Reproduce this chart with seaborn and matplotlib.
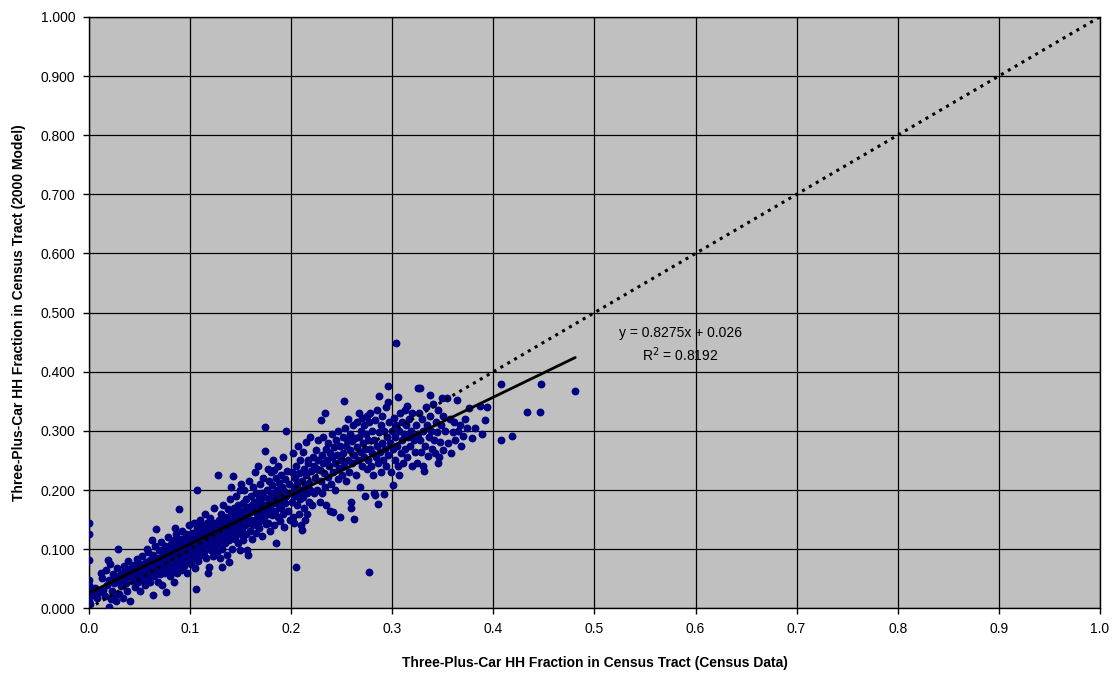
import numpy as np
import pandas as pd
import matplotlib
matplotlib.use("Agg")
import matplotlib.pyplot as plt
import seaborn as sns

tract_points = [
    # x 0.000-0.025
    (0.000,0.144),(0.000,0.125),(0.000,0.082),(0.000,0.047),(0.000,0.040),(0.000,0.024),(0.000,0.012),
    (0.001,0.008),(0.002,0.030),(0.004,0.022),(0.006,0.035),(0.008,0.018),(0.010,0.027),(0.012,0.060),
    (0.013,0.052),(0.014,0.031),(0.016,0.020),(0.017,0.065),(0.018,0.040),(0.019,0.082),(0.020,0.003),
    (0.020,0.048),(0.021,0.075),(0.022,0.015),(0.023,0.030),(0.024,0.058),(0.024,0.019),(0.025,0.042),
    # x 0.025-0.05
    (0.026,0.052),(0.027,0.012),(0.028,0.068),(0.029,0.100),(0.030,0.045),(0.030,0.025),(0.031,0.057),
    (0.032,0.038),(0.033,0.060),(0.034,0.018),(0.035,0.072),(0.036,0.050),(0.037,0.042),(0.038,0.063),
    (0.038,0.030),(0.039,0.080),(0.040,0.055),(0.041,0.013),(0.042,0.068),(0.043,0.047),(0.044,0.074),
    (0.045,0.060),(0.045,0.036),(0.046,0.052),(0.047,0.083),(0.048,0.066),(0.048,0.044),(0.049,0.058),
    (0.050,0.075),(0.050,0.030),(0.044,0.065),(0.036,0.065),
    # x 0.05-0.075
    (0.051,0.062),(0.052,0.048),(0.052,0.088),(0.053,0.070),(0.054,0.056),(0.055,0.040),(0.056,0.078),
    (0.057,0.064),(0.058,0.095),(0.058,0.052),(0.059,0.072),(0.060,0.082),(0.060,0.045),(0.061,0.060),
    (0.062,0.068),(0.063,0.090),(0.063,0.022),(0.064,0.055),(0.065,0.077),(0.065,0.105),(0.066,0.134),
    (0.066,0.064),(0.067,0.085),(0.068,0.045),(0.068,0.070),(0.069,0.098),(0.070,0.058),(0.070,0.080),
    (0.071,0.112),(0.071,0.066),(0.072,0.088),(0.072,0.040),(0.073,0.075),(0.073,0.095),(0.074,0.060),
    (0.074,0.083),(0.075,0.070),(0.075,0.105),(0.062,0.115),(0.057,0.100),
    # x 0.075-0.10
    (0.076,0.090),(0.076,0.028),(0.077,0.078),(0.077,0.100),(0.078,0.066),(0.078,0.120),(0.079,0.085),
    (0.080,0.095),(0.080,0.055),(0.081,0.072),(0.081,0.108),(0.082,0.088),(0.082,0.062),(0.083,0.098),
    (0.083,0.080),(0.084,0.115),(0.084,0.045),(0.085,0.092),(0.085,0.070),(0.086,0.102),(0.086,0.125),
    (0.087,0.084),(0.087,0.060),(0.088,0.110),(0.088,0.095),(0.089,0.168),(0.089,0.076),(0.090,0.100),
    (0.090,0.088),(0.091,0.118),(0.091,0.065),(0.092,0.096),(0.092,0.130),(0.093,0.082),(0.093,0.108),
    (0.094,0.090),(0.094,0.072),(0.095,0.115),(0.095,0.100),(0.096,0.085),(0.096,0.125),(0.097,0.095),
    (0.097,0.060),(0.098,0.110),(0.098,0.080),(0.099,0.140),(0.099,0.100),(0.100,0.090),(0.100,0.118),
    (0.085,0.136),
    # x 0.10-0.125
    (0.101,0.105),(0.101,0.075),(0.102,0.128),(0.102,0.095),(0.103,0.112),(0.103,0.085),(0.104,0.145),
    (0.104,0.100),(0.105,0.120),(0.105,0.068),(0.106,0.108),(0.106,0.092),(0.107,0.200),(0.107,0.135),
    (0.108,0.115),(0.108,0.080),(0.109,0.125),(0.109,0.100),(0.110,0.150),(0.110,0.110),(0.111,0.090),
    (0.111,0.130),(0.112,0.118),(0.106,0.033),(0.113,0.105),(0.113,0.140),(0.114,0.122),(0.114,0.095),
    (0.115,0.112),(0.115,0.160),(0.116,0.130),(0.116,0.085),(0.117,0.118),(0.117,0.145),(0.118,0.105),
    (0.118,0.128),(0.119,0.070),(0.119,0.138),(0.120,0.115),(0.120,0.152),(0.121,0.098),(0.121,0.125),
    (0.122,0.135),(0.122,0.110),(0.123,0.145),(0.123,0.088),(0.124,0.120),(0.124,0.170),(0.125,0.130),
    (0.125,0.105),(0.110,0.127),(0.104,0.118),(0.118,0.060),(0.107,0.145),(0.121,0.140),
    # x 0.125-0.15
    (0.126,0.118),(0.126,0.145),(0.127,0.095),(0.127,0.132),(0.128,0.226),(0.128,0.110),(0.129,0.150),
    (0.129,0.125),(0.130,0.085),(0.130,0.140),(0.131,0.118),(0.131,0.160),(0.132,0.130),(0.132,0.100),
    (0.133,0.145),(0.133,0.175),(0.134,0.122),(0.134,0.135),(0.135,0.110),(0.135,0.155),(0.136,0.140),
    (0.136,0.090),(0.137,0.128),(0.137,0.168),(0.138,0.150),(0.138,0.115),(0.139,0.138),(0.139,0.185),
    (0.140,0.125),(0.140,0.160),(0.141,0.145),(0.141,0.100),(0.142,0.224),(0.142,0.132),(0.143,0.170),
    (0.143,0.152),(0.144,0.118),(0.144,0.140),(0.145,0.190),(0.145,0.160),(0.146,0.128),(0.146,0.148),
    (0.147,0.175),(0.147,0.110),(0.148,0.155),(0.148,0.138),(0.149,0.200),(0.149,0.165),(0.150,0.145),
    (0.150,0.125),(0.138,0.078),(0.149,0.099),(0.132,0.070),(0.150,0.210),(0.140,0.205),
    # x 0.15-0.175
    (0.151,0.160),(0.151,0.135),(0.152,0.178),(0.152,0.115),(0.153,0.150),(0.153,0.200),(0.154,0.140),
    (0.154,0.168),(0.155,0.125),(0.155,0.185),(0.156,0.155),(0.156,0.098),(0.157,0.172),(0.157,0.090),
    (0.158,0.145),(0.158,0.215),(0.159,0.162),(0.159,0.130),(0.160,0.190),(0.160,0.150),(0.161,0.175),
    (0.161,0.118),(0.162,0.205),(0.162,0.140),(0.163,0.165),(0.163,0.180),(0.164,0.150),(0.164,0.230),
    (0.165,0.128),(0.165,0.195),(0.166,0.160),(0.166,0.172),(0.167,0.240),(0.167,0.145),(0.168,0.185),
    (0.168,0.135),(0.169,0.210),(0.169,0.162),(0.170,0.150),(0.170,0.178),(0.171,0.195),(0.171,0.122),
    (0.172,0.168),(0.172,0.220),(0.173,0.155),(0.173,0.188),(0.174,0.306),(0.174,0.266),(0.175,0.175),
    (0.175,0.142),
    # x 0.175-0.20
    (0.176,0.200),(0.176,0.160),(0.177,0.235),(0.177,0.145),(0.178,0.185),(0.178,0.215),(0.179,0.170),
    (0.179,0.130),(0.180,0.195),(0.180,0.230),(0.181,0.158),(0.181,0.208),(0.182,0.178),(0.182,0.250),
    (0.183,0.233),(0.183,0.140),(0.184,0.190),(0.184,0.165),(0.185,0.220),(0.185,0.110),(0.186,0.182),
    (0.186,0.200),(0.187,0.155),(0.187,0.240),(0.188,0.175),(0.188,0.212),(0.189,0.192),(0.189,0.148),
    (0.190,0.225),(0.190,0.170),(0.191,0.205),(0.191,0.185),(0.192,0.160),(0.192,0.255),(0.193,0.198),
    (0.193,0.138),(0.194,0.218),(0.194,0.178),(0.195,0.300),(0.195,0.190),(0.196,0.232),(0.197,0.165),
    (0.198,0.210),(0.199,0.150),(0.200,0.195),
    # x 0.20-0.225
    (0.201,0.230),(0.201,0.180),(0.202,0.155),(0.202,0.262),(0.203,0.205),(0.203,0.145),(0.204,0.220),
    (0.204,0.190),(0.205,0.070),(0.205,0.240),(0.206,0.175),(0.206,0.210),(0.207,0.195),(0.207,0.275),
    (0.208,0.160),(0.208,0.228),(0.209,0.185),(0.209,0.250),(0.210,0.200),(0.210,0.140),(0.211,0.133),
    (0.211,0.215),(0.212,0.265),(0.212,0.188),(0.213,0.235),(0.213,0.170),(0.214,0.149),(0.214,0.205),
    (0.215,0.282),(0.215,0.225),(0.216,0.159),(0.216,0.195),(0.217,0.245),(0.217,0.250),(0.218,0.180),
    (0.218,0.212),(0.219,0.290),(0.219,0.200),(0.220,0.232),(0.221,0.175),(0.222,0.255),(0.223,0.240),
    (0.223,0.195),(0.224,0.220),(0.225,0.268),
    # x 0.225-0.25
    (0.226,0.235),(0.226,0.200),(0.227,0.285),(0.227,0.250),(0.228,0.233),(0.228,0.180),(0.229,0.318),
    (0.229,0.215),(0.230,0.260),(0.230,0.195),(0.231,0.245),(0.231,0.290),(0.232,0.228),(0.233,0.331),
    (0.233,0.205),(0.234,0.270),(0.234,0.175),(0.235,0.250),(0.236,0.222),(0.236,0.280),(0.237,0.240),
    (0.238,0.165),(0.238,0.262),(0.239,0.210),(0.240,0.295),(0.240,0.255),(0.241,0.163),(0.241,0.230),
    (0.242,0.272),(0.243,0.245),(0.243,0.200),(0.244,0.285),(0.245,0.260),(0.246,0.218),(0.246,0.300),
    (0.247,0.238),(0.248,0.155),(0.248,0.275),(0.249,0.250),(0.250,0.225),
    # x 0.25-0.275
    (0.251,0.290),(0.251,0.262),(0.252,0.351),(0.252,0.240),(0.253,0.305),(0.254,0.275),(0.254,0.215),
    (0.255,0.285),(0.256,0.250),(0.256,0.320),(0.257,0.230),(0.258,0.295),(0.258,0.268),(0.259,0.180),
    (0.259,0.170),(0.260,0.283),(0.260,0.245),(0.261,0.310),(0.262,0.151),(0.262,0.260),(0.263,0.288),
    (0.264,0.225),(0.265,0.315),(0.265,0.272),(0.266,0.250),(0.267,0.330),(0.267,0.290),(0.268,0.205),
    (0.269,0.265),(0.269,0.300),(0.270,0.240),(0.270,0.322),(0.271,0.280),(0.272,0.255),(0.272,0.310),
    (0.273,0.190),(0.273,0.270),(0.274,0.295),(0.275,0.235),(0.275,0.325),
    # x 0.275-0.30
    (0.276,0.285),(0.276,0.250),(0.277,0.061),(0.277,0.315),(0.278,0.270),(0.278,0.330),(0.279,0.240),
    (0.280,0.300),(0.280,0.262),(0.281,0.225),(0.282,0.195),(0.282,0.285),(0.283,0.192),(0.283,0.318),
    (0.284,0.255),(0.285,0.335),(0.285,0.275),(0.286,0.176),(0.286,0.245),(0.287,0.359),(0.287,0.298),
    (0.288,0.265),(0.289,0.310),(0.289,0.230),(0.290,0.280),(0.290,0.325),(0.291,0.250),(0.292,0.194),
    (0.292,0.300),(0.293,0.270),(0.294,0.340),(0.294,0.240),(0.295,0.290),(0.296,0.376),(0.296,0.349),
    (0.296,0.260),(0.297,0.315),(0.298,0.280),(0.299,0.230),(0.300,0.300),
    # x 0.30-0.325
    (0.301,0.209),(0.301,0.270),(0.302,0.322),(0.303,0.250),(0.303,0.290),(0.304,0.449),(0.304,0.310),
    (0.305,0.275),(0.306,0.357),(0.306,0.240),(0.307,0.226),(0.307,0.300),(0.308,0.330),(0.309,0.262),
    (0.310,0.285),(0.310,0.315),(0.311,0.245),(0.312,0.295),(0.313,0.270),(0.313,0.335),(0.314,0.310),
    (0.315,0.342),(0.315,0.255),(0.316,0.290),(0.317,0.320),(0.318,0.275),(0.319,0.300),(0.320,0.240),
    (0.320,0.330),(0.321,0.285),(0.322,0.265),(0.323,0.310),(0.324,0.245),(0.325,0.373),(0.325,0.295),
    # x 0.325-0.35
    (0.326,0.330),(0.327,0.372),(0.327,0.285),(0.328,0.265),(0.329,0.320),(0.330,0.240),(0.330,0.300),
    (0.331,0.232),(0.332,0.275),(0.333,0.340),(0.334,0.310),(0.335,0.258),(0.336,0.290),(0.337,0.360),
    (0.337,0.325),(0.338,0.300),(0.339,0.270),(0.340,0.345),(0.341,0.285),(0.342,0.262),(0.343,0.315),
    (0.344,0.298),(0.345,0.335),(0.346,0.255),(0.347,0.282),(0.348,0.310),(0.349,0.355),(0.350,0.325),
    (0.350,0.268),(0.345,0.245),
    # x 0.35-0.40
    (0.352,0.300),(0.354,0.355),(0.355,0.280),(0.357,0.320),(0.358,0.262),(0.360,0.298),(0.361,0.315),
    (0.362,0.285),(0.364,0.353),(0.365,0.300),(0.367,0.310),(0.368,0.275),(0.370,0.292),(0.372,0.320),
    (0.374,0.305),(0.376,0.338),(0.379,0.288),(0.382,0.305),(0.387,0.342),(0.389,0.295),(0.394,0.340),
    (0.392,0.318),
    # x > 0.40
    (0.408,0.379),(0.408,0.285),(0.418,0.292),(0.433,0.332),(0.446,0.332),(0.447,0.379),(0.481,0.367),
]

census_frac = [p[0] for p in tract_points]
model_frac = [p[1] for p in tract_points]

# Trendline reported on the chart
trend_slope = 0.8275
trend_intercept = 0.026
trend_r2 = 0.8192

# Equality reference line endpoints
equal_line = [0.0, 1.0]

x_ticks = [0.0, 0.1, 0.2, 0.3, 0.4, 0.5, 0.6, 0.7, 0.8, 0.9, 1.0]
y_ticks = [0.0, 0.1, 0.2, 0.3, 0.4, 0.5, 0.6, 0.7, 0.8, 0.9, 1.0]

x_label = "Three-Plus-Car HH Fraction in Census Tract (Census Data)"
y_label = "Three-Plus-Car HH Fraction in Census Tract (2000 Model)"

sns.set_theme(style="white")
plt.rcParams['font.family'] = ['Liberation Sans', 'DejaVu Sans']
plt.rcParams['text.color'] = 'black'
plt.rcParams['axes.labelcolor'] = 'black'
plt.rcParams['xtick.color'] = 'black'
plt.rcParams['ytick.color'] = 'black'

df = pd.DataFrame({"census": census_frac, "model": model_frac})

fig = plt.figure(figsize=(11.2, 6.77), dpi=100)
ax = fig.add_axes([0.0795, 0.1015, 0.9025, 0.8735])
ax.set_facecolor("#C0C0C0")

ax.set_xlim(0, 1)
ax.set_ylim(0, 1)
ax.set_xticks(x_ticks)
ax.set_yticks(y_ticks)
ax.set_xticklabels([f"{t:.1f}" for t in x_ticks], fontsize=10)
ax.set_yticklabels([f"{t:.3f}" for t in y_ticks], fontsize=10)
ax.grid(True, color="black", linewidth=0.9)
ax.set_axisbelow(True)

sns.scatterplot(data=df, x="census", y="model", ax=ax, color="#000080",
                s=32, linewidth=0, zorder=3)

# 1:1 dotted line
ax.plot(equal_line, equal_line, color="black", linestyle=(0, (1, 1.6)),
        linewidth=2.2, zorder=4)

# Trendline across data range
tx = np.array([min(census_frac), max(census_frac)])
ax.plot(tx, trend_slope * tx + trend_intercept, color="black", linewidth=2.0, zorder=5)

ax.text(0.585, 0.465, f"y = {trend_slope}x + {trend_intercept}", ha="center", va="center",
        fontsize=10, zorder=6)
ax.text(0.585, 0.428, f"R$^2$ = {trend_r2}", ha="center", va="center", fontsize=10, zorder=6)

ax.set_xlabel(x_label, fontsize=10, fontweight="bold", labelpad=14)
ax.set_ylabel(y_label, fontsize=10, fontweight="bold", labelpad=10)

for side in ["left", "bottom", "top", "right"]:
    ax.spines[side].set_color("black")
    ax.spines[side].set_linewidth(1.0)
ax.tick_params(axis="both", which="both", direction="out", length=4, width=1,
               color="black", bottom=True, left=True, pad=6)

fig.savefig("out.png", dpi=100)
